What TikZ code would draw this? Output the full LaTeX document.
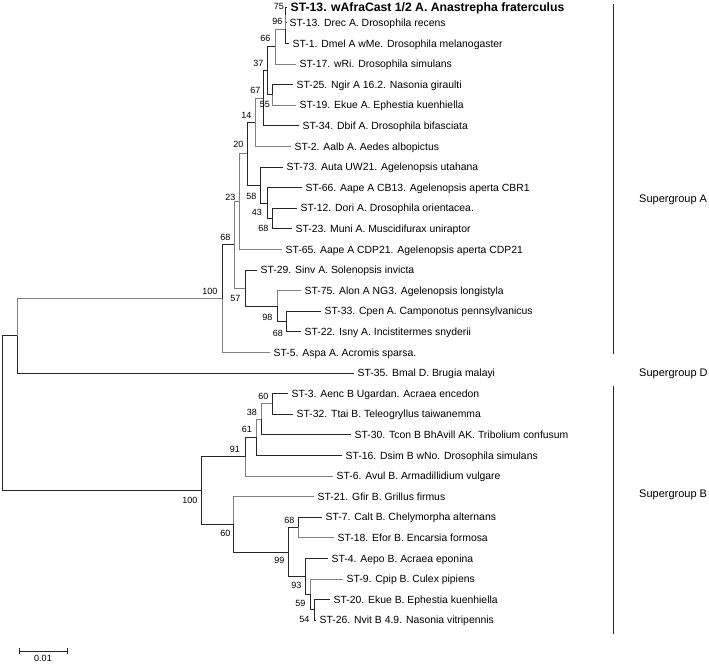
\documentclass[tikz,border=0pt]{standalone}
\usepackage{fontspec}
\setmainfont{Liberation Sans}
\begin{document}
\begin{tikzpicture}[x=1pt, y=-1pt,
  br/.style={draw=black!85, line width=0.8pt},
  brg/.style={draw=black!50, line width=0.8pt},
  leaf/.style={anchor=west, inner xsep=3.5pt, inner ysep=0pt, text height=7.5pt, text depth=0pt,
    font=\fontsize{10.4}{12}\selectfont},
  bs/.style={anchor=east, inner sep=0pt, font=\fontsize{9}{10}\selectfont},
  grp/.style={anchor=west, inner sep=0pt, text height=7.9pt, text depth=0pt,
    font=\fontsize{11}{13}\selectfont}]

  \useasboundingbox (0,0) rectangle (709,665);

  % leaves of supergroup A
  \node[leaf, text height=8.7pt, font=\fontsize{12.2}{14}\selectfont\bfseries] (st13w) at (287,7)
    {ST-13. wAfraCast 1/2 A. Anastrepha fraterculus};
  \node[leaf] (st13) at (286,22.7)  {ST-13. Drec A. Drosophila recens};
  \node[leaf] (st1)  at (289,43.3)  {ST-1. Dmel A wMe. Drosophila melanogaster};
  \node[leaf] (st17) at (296,63.9)  {ST-17. wRi. Drosophila simulans};
  \node[leaf] (st25) at (293,84.5)  {ST-25. Ngir A 16.2. Nasonia giraulti};
  \node[leaf] (st19) at (296,105.1) {ST-19. Ekue A. Ephestia kuenhiella};
  \node[leaf] (st34) at (299,125.7) {ST-34. Dbif A. Drosophila bifasciata};
  \node[leaf] (st2)  at (291,146.3) {ST-2. Aalb A. Aedes albopictus};
  \node[leaf] (st73) at (283,166.9) {ST-73. Auta UW21. Agelenopsis utahana};
  \node[leaf] (st66) at (302,187.5) {ST-66. Aape A CB13. Agelenopsis aperta CBR1};
  \node[leaf] (st12) at (297,208.1) {ST-12. Dori A. Drosophila orientacea.};
  \node[leaf] (st23) at (292,228.7) {ST-23. Muni A. Muscidifurax uniraptor};
  \node[leaf] (st65) at (282,249.3) {ST-65. Aape A CDP21. Agelenopsis aperta CDP21};
  \node[leaf] (st29) at (257,269.9) {ST-29. Sinv A. Solenopsis invicta};
  \node[leaf] (st75) at (301,290.5) {ST-75. Alon A NG3. Agelenopsis longistyla};
  \node[leaf] (st33) at (321,311.1) {ST-33. Cpen A. Camponotus pennsylvanicus};
  \node[leaf] (st22) at (301,331.7) {ST-22. Isny A. Incistitermes snyderii};
  \node[leaf] (st5)  at (270,352.3) {ST-5. Aspa A. Acromis sparsa.};

  % leaf of supergroup D
  \node[leaf] (st35) at (354,372.9) {ST-35. Bmal D. Brugia malayi};

  % leaves of supergroup B
  \node[leaf] (st3)  at (288,393.5) {ST-3. Aenc B Ugardan. Acraea encedon};
  \node[leaf] (st32) at (293,414.1) {ST-32. Ttai B. Teleogryllus taiwanemma};
  \node[leaf] (st30) at (351,434.7) {ST-30. Tcon B BhAvill AK. Tribolium confusum};
  \node[leaf] (st16) at (342,455.3) {ST-16. Dsim B wNo. Drosophila simulans};
  \node[leaf] (st6)  at (333,475.9) {ST-6. Avul B. Armadillidium vulgare};
  \node[leaf] (st21) at (314,496.5) {ST-21. Gfir B. Grillus firmus};
  \node[leaf] (st7)  at (322,517.1) {ST-7. Calt B. Chelymorpha alternans};
  \node[leaf] (st18) at (334,537.7) {ST-18. Efor B. Encarsia formosa};
  \node[leaf] (st4)  at (328,558.3) {ST-4. Aepo B. Acraea eponina};
  \node[leaf] (st9)  at (343,578.9) {ST-9. Cpip B. Culex pipiens};
  \node[leaf] (st20) at (330,599.5) {ST-20. Ekue B. Ephestia kuenhiella};
  \node[leaf] (st26) at (316,620.1) {ST-26. Nvit B 4.9. Nasonia vitripennis};

  % inner nodes, supergroup A
  \coordinate (n75)  at (285.5,14.9);
  \coordinate (n96)  at (285,29.1);
  \coordinate (n66)  at (275,46.5);
  \coordinate (n55)  at (272,94.8);
  \coordinate (n37)  at (267,70.7);
  \coordinate (n67)  at (263,98.2);
  \coordinate (n14)  at (255,122.2);
  \coordinate (n68a) at (272,218.4);
  \coordinate (n43)  at (267,202.9);
  \coordinate (n58)  at (260,184.9);
  \coordinate (n20)  at (247,153.6);
  \coordinate (n23)  at (239,201.4);
  \coordinate (n68c) at (286.5,321.4);
  \coordinate (n98)  at (277,305.9);
  \coordinate (n57)  at (245,287.9);
  \coordinate (n68b) at (234,244.7);
  \coordinate (n100a) at (222,298.5);
  \coordinate (nAD)  at (17,335.7);

  % inner nodes, supergroup B
  \coordinate (n60a) at (272,403.8);
  \coordinate (n38)  at (261,419.3);
  \coordinate (n61)  at (256,437.3);
  \coordinate (n91)  at (245,456.6);
  \coordinate (n68d) at (298,527.4);
  \coordinate (n54)  at (314,609.8);
  \coordinate (n59)  at (310,594.4);
  \coordinate (n93)  at (305.5,576.4);
  \coordinate (n99)  at (288,551.9);
  \coordinate (n60b) at (233,524.2);
  \coordinate (n100b) at (201,490.4);
  \coordinate (root) at (2,413);

  % branches, supergroup A
  \draw[br]  (n75) |- (st13w.west);
  \draw[br]  (n75) |- (st13.west);
  \draw[brg] (n96) |- (n75);
  \draw[br]  (n96) |- (st1.west);
  \draw[brg] (n66) |- (n96);
  \draw[brg] (n66) |- (st17.west);
  \draw[br]  (n55) |- (st25.west);
  \draw[brg] (n55) |- (st19.west);
  \draw[br]  (n37) |- (n66);
  \draw[br]  (n37) |- (n55);
  \draw[br]  (n67) |- (n37);
  \draw[br]  (n67) |- (st34.west);
  \draw[brg] (n14) |- (n67);
  \draw[brg] (n14) |- (st2.west);
  \draw[br]  (n68a) |- (st12.west);
  \draw[br]  (n68a) |- (st23.west);
  \draw[br]  (n43) |- (st66.west);
  \draw[br]  (n43) |- (n68a);
  \draw[br]  (n58) |- (st73.west);
  \draw[br]  (n58) |- (n43);
  \draw[br]  (n20) |- (n14);
  \draw[br]  (n20) |- (n58);
  \draw[brg] (n23) |- (n20);
  \draw[brg] (n23) |- (st65.west);
  \draw[br]  (n68c) |- (st33.west);
  \draw[br]  (n68c) |- (st22.west);
  \draw[brg] (n98) |- (st75.west);
  \draw[br]  (n98) |- (n68c);
  \draw[br]  (n57) |- (st29.west);
  \draw[br]  (n57) |- (n98);
  \draw[brg] (n68b) |- (n23);
  \draw[brg] (n68b) |- (n57);
  \draw[br]  (n100a) |- (n68b);
  \draw[brg] (n100a) |- (st5.west);

  % supergroup D and root
  \draw[brg] (nAD) |- (n100a);
  \draw[br]  (nAD) |- (st35.west);
  \draw[br]  (root) |- (nAD);
  \draw[br]  (root) |- (n100b);

  % branches, supergroup B
  \draw[br]  (n60a) |- (st3.west);
  \draw[br]  (n60a) |- (st32.west);
  \draw[brg] (n38) |- (n60a);
  \draw[br]  (n38) |- (st30.west);
  \draw[brg] (n61) |- (n38);
  \draw[br]  (n61) |- (st16.west);
  \draw[br]  (n91) |- (n61);
  \draw[brg] (n91) |- (st6.west);
  \draw[br]  (n68d) |- (st7.west);
  \draw[brg] (n68d) |- (st18.west);
  \draw[br]  (n54) |- (st20.west);
  \draw[br]  (n54) |- (st26.west);
  \draw[brg] (n59) |- (st9.west);
  \draw[br]  (n59) |- (n54);
  \draw[br]  (n93) |- (st4.west);
  \draw[br]  (n93) |- (n59);
  \draw[br]  (n99) |- (n68d);
  \draw[br]  (n99) |- (n93);
  \draw[brg] (n60b) |- (st21.west);
  \draw[br]  (n60b) |- (n99);
  \draw[br]  (n100b) |- (n91);
  \draw[br]  (n100b) |- (n60b);

  % bootstrap values
  \node[bs] (b75)   at (284,6)      {75};
  \node[bs] (b96)   at (282.5,21.5) {96};
  \node[bs] (b66)   at (270.5,38)   {66};
  \node[bs] (b37)   at (263.5,63)   {37};
  \node[bs] (b67)   at (260.5,90)   {67};
  \node[bs] (b55)   at (270,104)    {55};
  \node[bs] (b14)   at (251.5,115)  {14};
  \node[bs] (b20)   at (243.5,144)  {20};
  \node[bs] (b58)   at (256.5,196)  {58};
  \node[bs] (b23)   at (235.5,197)  {23};
  \node[bs] (b43)   at (262,212)    {43};
  \node[bs] (b68a)  at (268.5,228)  {68};
  \node[bs] (b68b)  at (230.5,237)  {68};
  \node[bs] (b100a) at (217.5,291)  {100};
  \node[bs] (b57)   at (240.5,298)  {57};
  \node[bs] (b98)   at (272.5,317)  {98};
  \node[bs] (b68c)  at (283,333)    {68};
  \node[bs] (b60a)  at (268.5,396)  {60};
  \node[bs] (b38)   at (257,412)    {38};
  \node[bs] (b61)   at (252,429)    {61};
  \node[bs] (b91)   at (240,449)    {91};
  \node[bs] (b100b) at (197.5,500)  {100};
  \node[bs] (b60b)  at (230.5,533)  {60};
  \node[bs] (b68d)  at (294.5,520)  {68};
  \node[bs] (b99)   at (284.5,560)  {99};
  \node[bs] (b93)   at (301.5,585)  {93};
  \node[bs] (b59)   at (305.5,603)  {59};
  \node[bs] (b54)   at (309.5,619)  {54};

  % supergroup bars
  \coordinate (barAtop) at (613,4);
  \coordinate (barAbot) at (613,354);
  \coordinate (barBtop) at (613,386);
  \coordinate (barBbot) at (613,634);
  \draw[br, line width=1pt] (barAtop) -- (barAbot);
  \draw[br, line width=1pt] (barBtop) -- (barBbot);
  \node[grp] (grpA) at (639,199) {Supergroup A};
  \node[grp] (grpD) at (639,373) {Supergroup D};
  \node[grp] (grpB) at (639,494) {Supergroup B};

  % scale bar
  \coordinate (sL) at (19,651);
  \coordinate (sR) at (67,651);
  \draw[br] (sL) -- (sR);
  \draw[br] (sL) ++(0,-3) -- ++(0,6);
  \draw[br] (sR) ++(0,-3) -- ++(0,6);
  \node[bs, anchor=north] (sLabel) at (43,655) {0.01};

\end{tikzpicture}
\end{document}
